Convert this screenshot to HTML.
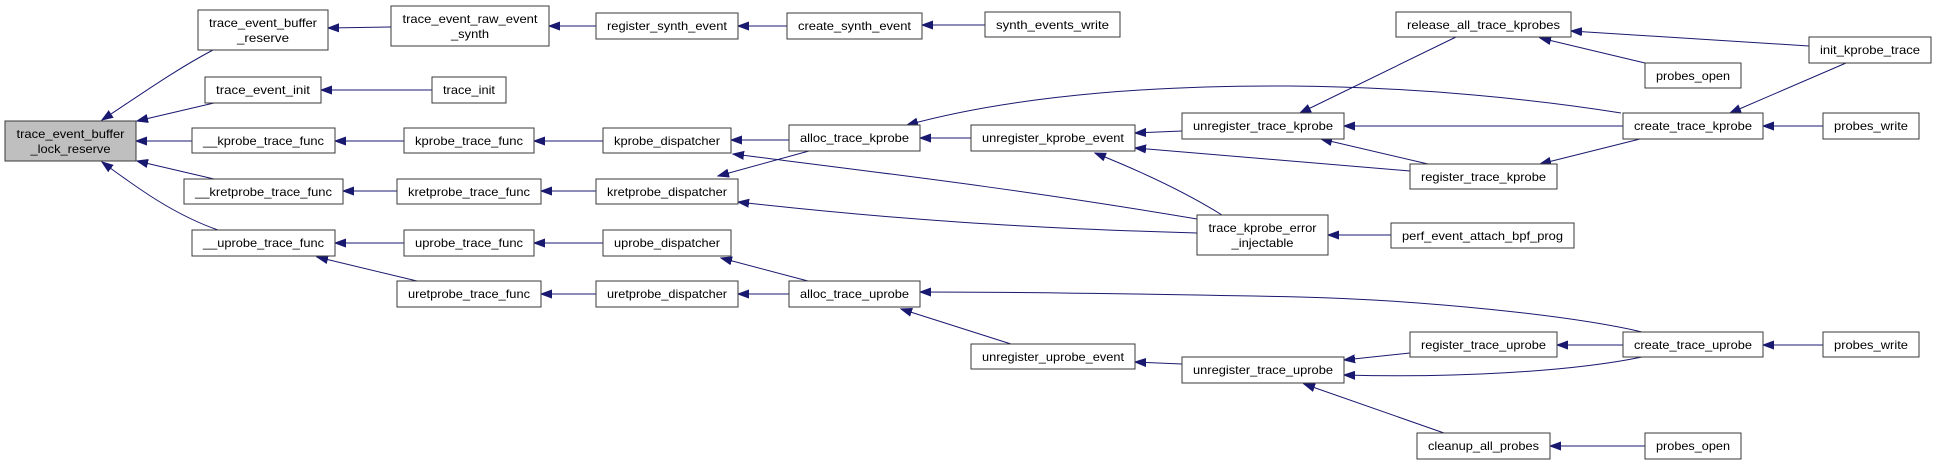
<!DOCTYPE html>
<html><head><meta charset="utf-8"><style>
html,body{margin:0;padding:0;background:#fff;}
svg{display:block;}
text{font-family:"Liberation Sans",Arial,sans-serif;font-size:12px;fill:#000;text-anchor:middle;}
rect{fill:#fff;stroke:#3a3a3a;stroke-width:1;}
.e{fill:none;stroke:#191970;stroke-width:1;}
</style></head><body>
<svg width="1937" height="465" viewBox="0 0 1937 465" xmlns="http://www.w3.org/2000/svg">
<defs>
<marker id="a" markerUnits="userSpaceOnUse" markerWidth="12" markerHeight="10" refX="11" refY="5" orient="auto">
<path d="M0,1 L11,5 L0,9 z" fill="#191970" stroke="#191970"/>
</marker>
</defs>
<g>
<path class="e" marker-end="url(#a)" d="M213,50 C175,70 140,95 102,120"/>
<path class="e" marker-end="url(#a)" d="M214,103 L137,121"/>
<path class="e" marker-end="url(#a)" d="M192,141 L136,141"/>
<path class="e" marker-end="url(#a)" d="M214,179 L137,161"/>
<path class="e" marker-end="url(#a)" d="M218,230 C175,215 140,190 102,162"/>
<path class="e" marker-end="url(#a)" d="M391,27 L328,28"/>
<path class="e" marker-end="url(#a)" d="M432,90 L321,90"/>
<path class="e" marker-end="url(#a)" d="M404,141 L335,141"/>
<path class="e" marker-end="url(#a)" d="M397,191 L343,191"/>
<path class="e" marker-end="url(#a)" d="M404,243 L335,243"/>
<path class="e" marker-end="url(#a)" d="M417,281 L317,257"/>
<path class="e" marker-end="url(#a)" d="M596,26 L549,26"/>
<path class="e" marker-end="url(#a)" d="M603,141 L534,141"/>
<path class="e" marker-end="url(#a)" d="M596,191 L541,191"/>
<path class="e" marker-end="url(#a)" d="M603,243 L534,243"/>
<path class="e" marker-end="url(#a)" d="M596,294 L541,294"/>
<path class="e" marker-end="url(#a)" d="M787,26 L738,26"/>
<path class="e" marker-end="url(#a)" d="M985,25 L922,25"/>
<path class="e" marker-end="url(#a)" d="M789,140 L731,140"/>
<path class="e" marker-end="url(#a)" d="M809,151 L718,176"/>
<path class="e" marker-end="url(#a)" d="M1197,219 C1025,190 899,175 733,154"/>
<path class="e" marker-end="url(#a)" d="M1197,233 C1025,228 899,220 738,202"/>
<path class="e" marker-end="url(#a)" d="M808,281 L721,258"/>
<path class="e" marker-end="url(#a)" d="M789,294 L738,294"/>
<path class="e" marker-end="url(#a)" d="M971,138 L920,138"/>
<path class="e" marker-end="url(#a)" d="M1011,344 L901,309"/>
<path class="e" marker-end="url(#a)" d="M1621,113 C1540,100 1420,87 1290,86 C1100,85 980,105 907,125"/>
<path class="e" marker-end="url(#a)" d="M1182,131 L1135,133"/>
<path class="e" marker-end="url(#a)" d="M1410,171 L1135,148"/>
<path class="e" marker-end="url(#a)" d="M1222,215 C1190,195 1150,175 1095,153"/>
<path class="e" marker-end="url(#a)" d="M1456,37 L1300,113"/>
<path class="e" marker-end="url(#a)" d="M1623,126 L1344,126"/>
<path class="e" marker-end="url(#a)" d="M1428,164 L1321,139"/>
<path class="e" marker-end="url(#a)" d="M1640,139 L1540,164"/>
<path class="e" marker-end="url(#a)" d="M1391,235 L1328,235"/>
<path class="e" marker-end="url(#a)" d="M1809,46 L1571,31"/>
<path class="e" marker-end="url(#a)" d="M1645,63 L1540,38"/>
<path class="e" marker-end="url(#a)" d="M1846,63 L1730,113"/>
<path class="e" marker-end="url(#a)" d="M1823,126 L1763,126"/>
<path class="e" marker-end="url(#a)" d="M1642,332 C1570,315 1420,300 1300,297 C1100,293 1000,292 920,292"/>
<path class="e" marker-end="url(#a)" d="M1182,364 L1135,362"/>
<path class="e" marker-end="url(#a)" d="M1410,353 L1344,360"/>
<path class="e" marker-end="url(#a)" d="M1642,357 C1570,372 1450,378 1344,375"/>
<path class="e" marker-end="url(#a)" d="M1444,433 L1304,384"/>
<path class="e" marker-end="url(#a)" d="M1623,345 L1557,345"/>
<path class="e" marker-end="url(#a)" d="M1823,345 L1763,345"/>
<path class="e" marker-end="url(#a)" d="M1645,446 L1550,446"/>
</g>
<g>
<rect x="5" y="121" width="131" height="40" style="fill:#bfbfbf"/>
<text x="70.5" y="138" textLength="108" lengthAdjust="spacingAndGlyphs">trace_event_buffer</text>
<text x="70.5" y="153" textLength="80" lengthAdjust="spacingAndGlyphs">_lock_reserve</text>

<rect x="198" y="10" width="130" height="40"/>
<text x="263" y="27" textLength="108" lengthAdjust="spacingAndGlyphs">trace_event_buffer</text>
<text x="263" y="42" textLength="52" lengthAdjust="spacingAndGlyphs">_reserve</text>

<rect x="391" y="6" width="158" height="40"/>
<text x="470" y="23" textLength="135" lengthAdjust="spacingAndGlyphs">trace_event_raw_event</text>
<text x="470" y="38" textLength="38" lengthAdjust="spacingAndGlyphs">_synth</text>

<rect x="1197" y="215" width="131" height="40"/>
<text x="1262.5" y="232" textLength="108" lengthAdjust="spacingAndGlyphs">trace_kprobe_error</text>
<text x="1262.5" y="247" textLength="62" lengthAdjust="spacingAndGlyphs">_injectable</text>

<rect x="205" y="77" width="116" height="26"/>
<text x="263" y="94" textLength="94" lengthAdjust="spacingAndGlyphs">trace_event_init</text>
<rect x="192" y="128" width="143" height="25"/>
<text x="263.5" y="145" textLength="121" lengthAdjust="spacingAndGlyphs">__kprobe_trace_func</text>
<rect x="184" y="179" width="159" height="25"/>
<text x="263.5" y="196" textLength="137" lengthAdjust="spacingAndGlyphs">__kretprobe_trace_func</text>
<rect x="192" y="230" width="143" height="26"/>
<text x="263.5" y="247" textLength="121" lengthAdjust="spacingAndGlyphs">__uprobe_trace_func</text>

<rect x="432" y="77" width="74" height="26"/>
<text x="469" y="94" textLength="52" lengthAdjust="spacingAndGlyphs">trace_init</text>
<rect x="404" y="128" width="130" height="25"/>
<text x="469" y="145" textLength="108" lengthAdjust="spacingAndGlyphs">kprobe_trace_func</text>
<rect x="397" y="179" width="144" height="25"/>
<text x="469" y="196" textLength="122" lengthAdjust="spacingAndGlyphs">kretprobe_trace_func</text>
<rect x="404" y="230" width="130" height="26"/>
<text x="469" y="247" textLength="108" lengthAdjust="spacingAndGlyphs">uprobe_trace_func</text>
<rect x="397" y="281" width="144" height="26"/>
<text x="469" y="298" textLength="122" lengthAdjust="spacingAndGlyphs">uretprobe_trace_func</text>

<rect x="596" y="13" width="142" height="26"/>
<text x="667" y="30" textLength="120" lengthAdjust="spacingAndGlyphs">register_synth_event</text>
<rect x="603" y="128" width="128" height="25"/>
<text x="667" y="145" textLength="106" lengthAdjust="spacingAndGlyphs">kprobe_dispatcher</text>
<rect x="596" y="179" width="142" height="25"/>
<text x="667" y="196" textLength="120" lengthAdjust="spacingAndGlyphs">kretprobe_dispatcher</text>
<rect x="603" y="230" width="128" height="26"/>
<text x="667" y="247" textLength="106" lengthAdjust="spacingAndGlyphs">uprobe_dispatcher</text>
<rect x="596" y="281" width="142" height="26"/>
<text x="667" y="298" textLength="120" lengthAdjust="spacingAndGlyphs">uretprobe_dispatcher</text>

<rect x="787" y="13" width="135" height="26"/>
<text x="854.5" y="30" textLength="113" lengthAdjust="spacingAndGlyphs">create_synth_event</text>
<rect x="985" y="12" width="135" height="25"/>
<text x="1052.5" y="29" textLength="113" lengthAdjust="spacingAndGlyphs">synth_events_write</text>
<rect x="789" y="125" width="131" height="26"/>
<text x="854.5" y="142" textLength="109" lengthAdjust="spacingAndGlyphs">alloc_trace_kprobe</text>
<rect x="789" y="281" width="131" height="26"/>
<text x="854.5" y="298" textLength="109" lengthAdjust="spacingAndGlyphs">alloc_trace_uprobe</text>
<rect x="971" y="125" width="164" height="26"/>
<text x="1053" y="142" textLength="142" lengthAdjust="spacingAndGlyphs">unregister_kprobe_event</text>
<rect x="971" y="344" width="164" height="25"/>
<text x="1053" y="361" textLength="142" lengthAdjust="spacingAndGlyphs">unregister_uprobe_event</text>
<rect x="1182" y="113" width="162" height="26"/>
<text x="1263" y="130" textLength="140" lengthAdjust="spacingAndGlyphs">unregister_trace_kprobe</text>
<rect x="1182" y="357" width="162" height="26"/>
<text x="1263" y="374" textLength="140" lengthAdjust="spacingAndGlyphs">unregister_trace_uprobe</text>

<rect x="1396" y="12" width="175" height="25"/>
<text x="1483.5" y="29" textLength="153" lengthAdjust="spacingAndGlyphs">release_all_trace_kprobes</text>
<rect x="1645" y="63" width="96" height="25"/>
<text x="1693" y="80" textLength="74" lengthAdjust="spacingAndGlyphs">probes_open</text>
<rect x="1809" y="37" width="122" height="26"/>
<text x="1870" y="54" textLength="100" lengthAdjust="spacingAndGlyphs">init_kprobe_trace</text>
<rect x="1623" y="113" width="140" height="26"/>
<text x="1693" y="130" textLength="118" lengthAdjust="spacingAndGlyphs">create_trace_kprobe</text>
<rect x="1823" y="113" width="96" height="26"/>
<text x="1871" y="130" textLength="74" lengthAdjust="spacingAndGlyphs">probes_write</text>
<rect x="1410" y="164" width="147" height="25"/>
<text x="1483.5" y="181" textLength="125" lengthAdjust="spacingAndGlyphs">register_trace_kprobe</text>
<rect x="1391" y="223" width="183" height="25"/>
<text x="1482.5" y="240" textLength="161" lengthAdjust="spacingAndGlyphs">perf_event_attach_bpf_prog</text>
<rect x="1410" y="332" width="147" height="25"/>
<text x="1483.5" y="349" textLength="125" lengthAdjust="spacingAndGlyphs">register_trace_uprobe</text>
<rect x="1623" y="332" width="140" height="25"/>
<text x="1693" y="349" textLength="118" lengthAdjust="spacingAndGlyphs">create_trace_uprobe</text>
<rect x="1823" y="332" width="96" height="25"/>
<text x="1871" y="349" textLength="74" lengthAdjust="spacingAndGlyphs">probes_write</text>
<rect x="1417" y="433" width="133" height="26"/>
<text x="1483.5" y="450" textLength="111" lengthAdjust="spacingAndGlyphs">cleanup_all_probes</text>
<rect x="1645" y="433" width="96" height="26"/>
<text x="1693" y="450" textLength="74" lengthAdjust="spacingAndGlyphs">probes_open</text>
</g>
</svg>
</body></html>
